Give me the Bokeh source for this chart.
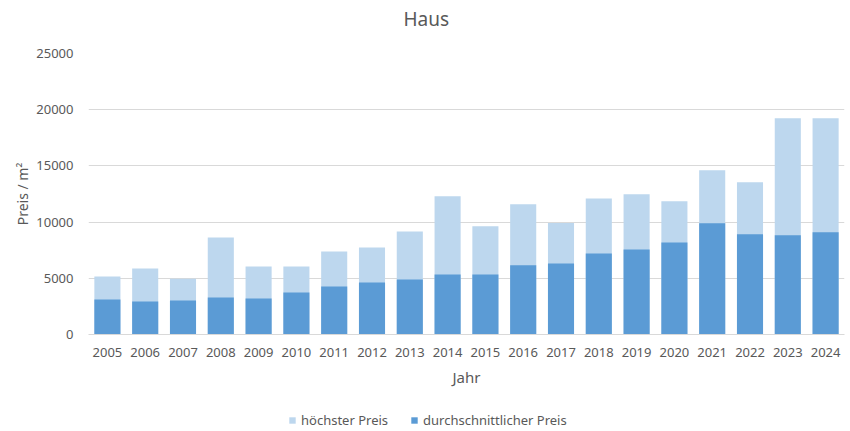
from bokeh.plotting import figure
from bokeh.layouts import column
from bokeh.models import FactorRange, Range1d, Legend, LegendItem, ColumnDataSource, Title
from bokeh.embed import file_html
from bokeh.resources import INLINE

years = [str(y) for y in range(2005, 2025)]
hoechster = [5170, 5880, 4960, 8640, 6060, 6060, 7390, 7750, 9170, 12290,
             9620, 11580, 9920, 12110, 12470, 11850, 14610, 13540, 19240, 19240]
durchschnitt = [3120, 2940, 3030, 3300, 3210, 3740, 4280, 4630, 4900, 5340,
                5340, 6150, 6320, 7210, 7570, 8190, 9890, 8910, 8820, 9090]
y_ticks = [0, 5000, 10000, 15000, 20000, 25000]

FONT = "Noto Sans"
TXT = "#595959"
GRID = "#D9D9D9"
C_HI = "#BDD7EE"
C_AVG = "#5B9BD5"

src = ColumnDataSource(dict(x=years, hi=hoechster, avg=durchschnitt))

p = figure(x_range=FactorRange(*years), y_range=Range1d(0, 25000),
           width=850, height=400, output_backend="svg", toolbar_location=None,
           min_border_left=88, min_border_right=6, min_border_top=53, min_border_bottom=66)
p.outline_line_color = None
p.background_fill_color = "white"
p.border_fill_color = "white"

spacer = Title(text=" ", text_font_size="1px", standoff=19)
p.add_layout(spacer, "above")
title = Title(text="Haus", align="left", offset=315, standoff=0,
              text_font=FONT, text_font_size="19px", text_font_style="normal",
              text_color=TXT)
p.add_layout(title, "above")

p.vbar(x="x", top="hi", width=0.69, source=src, color=C_HI, line_color=None)
p.vbar(x="x", top="avg", width=0.69, source=src, color=C_AVG, line_color=None)

p.xgrid.grid_line_color = None
p.ygrid.grid_line_color = GRID
p.ygrid.grid_line_width = 1

p.yaxis.ticker = y_ticks
p.yaxis.axis_line_color = None
p.yaxis.major_tick_line_color = None
p.yaxis.minor_tick_line_color = None
p.yaxis.major_tick_out = 0
p.yaxis.major_label_standoff = 15
p.yaxis.major_label_text_font = FONT
p.yaxis.major_label_text_font_size = "13px"
p.yaxis.major_label_text_color = TXT
p.yaxis.axis_label = "Preis / m²"
p.yaxis.axis_label_text_font = FONT
p.yaxis.axis_label_text_font_size = "14px"
p.yaxis.axis_label_text_font_style = "normal"
p.yaxis.axis_label_text_color = TXT
p.yaxis.axis_label_standoff = 1

p.xaxis.axis_line_color = GRID
p.xaxis.major_tick_line_color = None
p.xaxis.minor_tick_line_color = None
p.xaxis.major_tick_out = 0
p.xaxis.major_label_standoff = 13
p.xaxis.major_label_text_font = FONT
p.xaxis.major_label_text_font_size = "13px"
p.xaxis.major_label_text_color = TXT
p.xaxis.axis_label = "Jahr"
p.xaxis.axis_label_text_font = FONT
p.xaxis.axis_label_text_font_size = "15px"
p.xaxis.axis_label_text_font_style = "normal"
p.xaxis.axis_label_text_color = TXT
p.xaxis.axis_label_standoff = 7

# legend strip below the chart (legend proxies are hidden renderers)
q = figure(x_range=FactorRange(*years), y_range=Range1d(-2, -1),
           width=850, height=31, output_backend="svg", toolbar_location=None,
           x_axis_location=None, y_axis_location=None,
           min_border_left=0, min_border_right=0, min_border_top=0, min_border_bottom=0)
q.outline_line_color = None
q.xgrid.grid_line_color = None
q.ygrid.grid_line_color = None
q.background_fill_color = "white"
q.border_fill_color = "white"
l1 = q.vbar(x="x", top="hi", width=0.69, source=src, color=C_HI, line_color=None, visible=False)
l2 = q.vbar(x="x", top="avg", width=0.69, source=src, color=C_AVG, line_color=None, visible=False)

legend = Legend(items=[LegendItem(label="höchster Preis", renderers=[l1]),
                       LegendItem(label="durchschnittlicher Preis", renderers=[l2])],
                orientation="horizontal", location=(200, 2))
legend.glyph_width = 8
legend.glyph_height = 8
legend.label_height = 12
legend.label_standoff = 5
legend.spacing = 22
legend.padding = 0
legend.margin = 0
legend.border_line_color = None
legend.background_fill_alpha = 0
legend.label_text_font = FONT
legend.label_text_font_size = "13px"
legend.label_text_color = TXT
q.add_layout(legend, "center")

layout = column(p, q, spacing=0)
open("out.html", "w").write(file_html(layout, INLINE))
